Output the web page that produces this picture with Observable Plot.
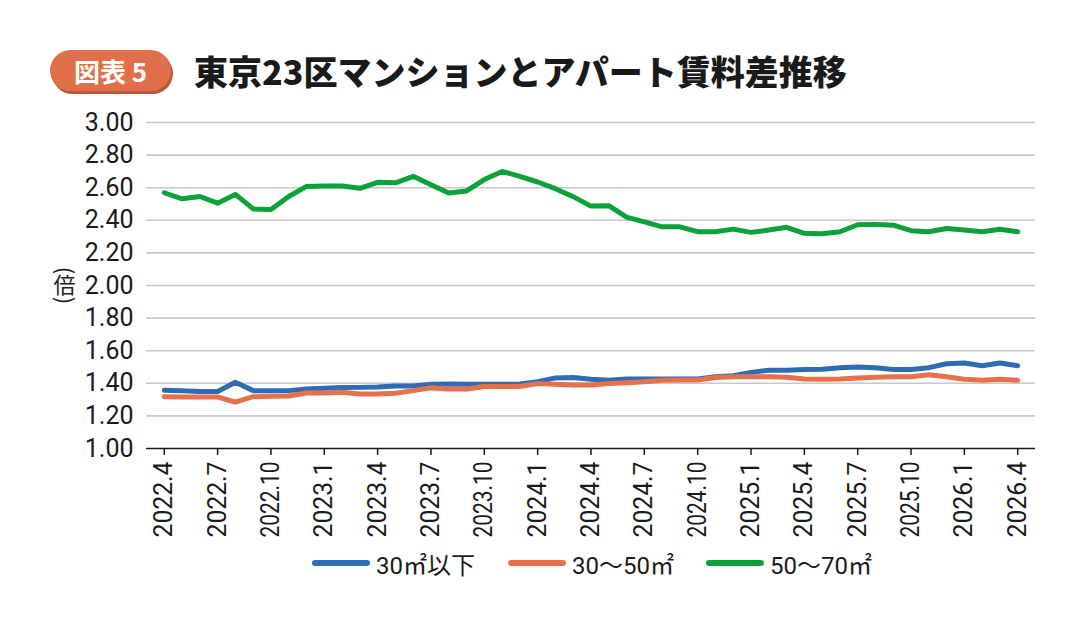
<!DOCTYPE html>
<html>
<head>
<meta charset="utf-8">
<script src="https://cdn.jsdelivr.net/npm/d3@7"></script>
<script src="https://cdn.jsdelivr.net/npm/@observablehq/plot@0.6"></script>
<style>
  html, body { margin: 0; padding: 0; background: #fff; }
  body { width: 1087px; height: 623px; position: relative; overflow: hidden; font-family: Roboto, "Noto Sans CJK JP", sans-serif; }
  #header { position: relative; height: 100px; }
  #badge { position: absolute; left: 50px; top: 50px; width: 121px; height: 41px; border-radius: 21px;
           background: #e0704a; box-shadow: 2px 3px 0 #b9583a; color: #fff; font-family: "Noto Sans CJK JP", sans-serif;
           font-weight: 700; font-size: 26px; line-height: 41px; text-align: center; }
  #title { position: absolute; left: 194px; top: 48px; font-family: "Noto Sans CJK JP", sans-serif; font-weight: 900;
           font-size: 34px; line-height: 46px; color: #1a1a1a; letter-spacing: 0px; }
  #chart { position: absolute; left: 0; top: 100px; z-index: 1; }
  .leg { position: absolute; top: 548px; height: 30px; display: flex; align-items: center; font-size: 24px; color: #1a1a1a;
         font-family: Roboto, "Noto Sans CJK JP", sans-serif; z-index: 5; }
  .sw { width: 58px; height: 6px; border-radius: 3px; margin-right: 6px; }
</style>
</head>
<body>
<div id="header">
  <div id="badge">図表 5</div>
  <div id="title">東京23区マンションとアパート賃料差推移</div>
</div>
<div id="chart"></div>
<div class="leg" style="left:312px"><div class="sw" style="background:#2e6db4"></div>30㎡以下</div>
<div class="leg" style="left:508px"><div class="sw" style="background:#e8704a"></div>30〜50㎡</div>
<div class="leg" style="left:706px"><div class="sw" style="background:#0ba23a"></div>50〜70㎡</div>
<script>
// Months 2022.4 .. 2026.4
const months = [
  "2022.4","2022.5","2022.6","2022.7","2022.8","2022.9","2022.10","2022.11","2022.12",
  "2023.1","2023.2","2023.3","2023.4","2023.5","2023.6","2023.7","2023.8","2023.9","2023.10","2023.11","2023.12",
  "2024.1","2024.2","2024.3","2024.4","2024.5","2024.6","2024.7","2024.8","2024.9","2024.10","2024.11","2024.12",
  "2025.1","2025.2","2025.3","2025.4","2025.5","2025.6","2025.7","2025.8","2025.9","2025.10","2025.11","2025.12",
  "2026.1","2026.2","2026.3","2026.4"
];
const tickLabels = ["2022.4","2022.7","2022.10","2023.1","2023.4","2023.7","2023.10","2024.1","2024.4","2024.7","2024.10","2025.1","2025.4","2025.7","2025.10","2026.1","2026.4"];
const yTicks = [1.0,1.2,1.4,1.6,1.8,2.0,2.2,2.4,2.6,2.8,3.0];
const yUnit = "倍";
const seriesNames = ["30㎡以下","30〜50㎡","50〜70㎡"];
const seriesColors = ["#2e6db4","#e8704a","#0ba23a"];

const under30 = [1.357,1.355,1.35,1.35,1.406,1.355,1.355,1.355,1.365,1.37,1.374,1.375,1.378,1.384,1.384,1.394,1.396,1.394,1.394,1.394,1.396,1.41,1.433,1.435,1.425,
  1.418,1.427,1.427,1.427,1.427,1.427,1.44,1.447,1.467,1.48,1.48,1.484,1.486,1.496,1.50,1.496,1.484,1.484,1.496,1.52,1.525,1.508,1.525,1.508];
const from30to50 = [1.318,1.316,1.316,1.316,1.284,1.318,1.32,1.322,1.34,1.34,1.345,1.335,1.335,1.339,1.355,1.373,1.365,1.365,1.38,1.38,1.38,1.398,1.394,1.39,1.39,
  1.398,1.404,1.41,1.418,1.42,1.42,1.435,1.44,1.44,1.44,1.437,1.427,1.425,1.427,1.433,1.437,1.44,1.44,1.453,1.44,1.425,1.418,1.425,1.418];
const from50to70 = [2.569,2.532,2.546,2.505,2.559,2.47,2.466,2.546,2.608,2.61,2.61,2.596,2.633,2.63,2.67,2.618,2.567,2.58,2.65,2.70,2.67,2.635,2.594,2.545,2.487,
  2.49,2.42,2.39,2.36,2.36,2.33,2.33,2.346,2.326,2.34,2.357,2.32,2.318,2.33,2.373,2.375,2.37,2.336,2.33,2.35,2.34,2.33,2.345,2.33];

const allSeries = [under30, from30to50, from50to70];
const data = [];
allSeries.forEach((vals, s) => vals.forEach((v, i) => data.push({month: months[i], value: v, series: seriesNames[s]})));

const cjk = "'Noto Sans CJK JP', sans-serif";
const unitStyle = { frameAnchor: "left", textAnchor: "middle", lineAnchor: "middle", dx: -82, fontSize: 22, fontFamily: cjk, fill: "#222" };
const chart = Plot.plot({
  width: 1087,
  height: 450,
  marginTop: 22,
  marginBottom: 102,
  marginLeft: 146,
  marginRight: 52,
  style: { fontFamily: "Roboto, 'Noto Sans CJK JP', sans-serif", fontSize: "25px", color: "#1a1a1a", background: "transparent" },
  x: { type: "point", domain: months, padding: 1 },
  y: { domain: [1, 3] },
  color: { domain: seriesNames, range: seriesColors },
  marks: [
    Plot.ruleY(yTicks.filter(d => d > 1.001), { stroke: "#c8c8c8", strokeWidth: 1.6 }),
    Plot.axisY({ ticks: yTicks, tickFormat: d3.format(".2f"), tickSize: 0, tickPadding: 13, fontSize: 25, label: null }),
    Plot.axisX({ ticks: tickLabels, tickRotate: -90, tickSize: 7, tickPadding: 6, fontSize: 25, label: null, stroke: "#1a1a1a", strokeWidth: 1.5 }),
    Plot.ruleY([1], { stroke: "#1a1a1a", strokeWidth: 1.6 }),
    // vertical unit label (倍)
    Plot.text(["("], { ...unitStyle, dy: -15, rotate: 90 }),
    Plot.text([yUnit], { ...unitStyle, dy: 0 }),
    Plot.text([")"], { ...unitStyle, dy: 15, rotate: 90 }),
    Plot.line(data, { x: "month", y: "value", z: "series", stroke: "series", strokeWidth: 5, strokeLinejoin: "round", strokeLinecap: "round" })
  ]
});
document.getElementById("chart").appendChild(chart);
// condense the rotated x tick labels to a common length, as in the reference
const labelSet = new Set(tickLabels);
chart.querySelectorAll("text, tspan").forEach(t => {
  if (labelSet.has(t.textContent.trim()) && !t.querySelector("tspan")) {
    t.setAttribute("textLength", "76");
    t.setAttribute("lengthAdjust", "spacingAndGlyphs");
  }
});
</script>
</body>
</html>
